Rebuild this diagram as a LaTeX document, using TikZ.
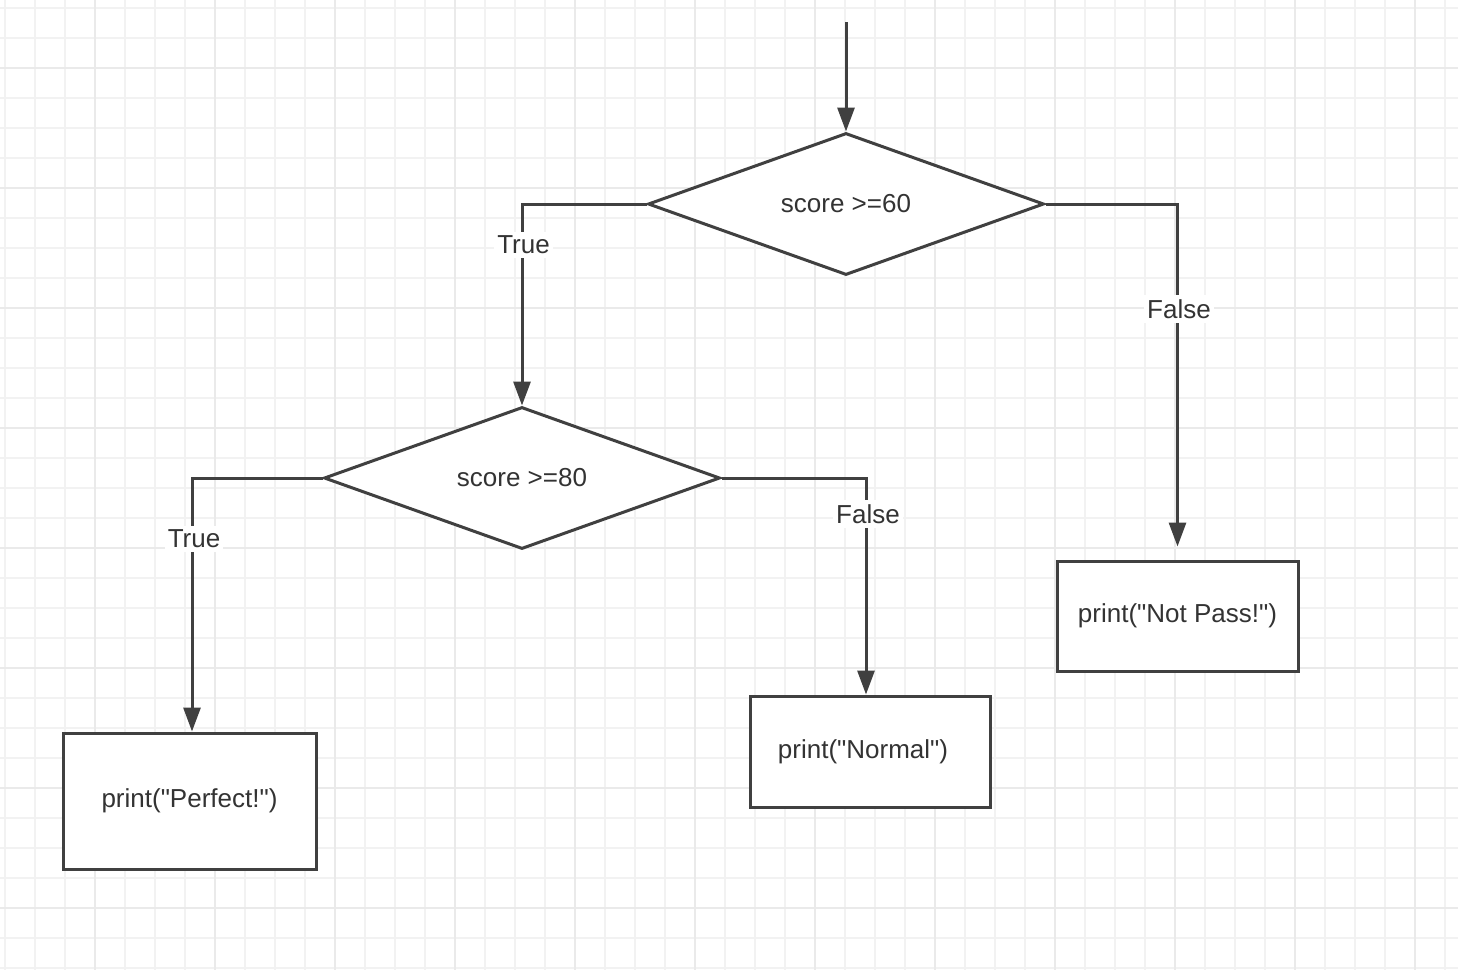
\documentclass[tikz,border=0pt]{standalone}
\usepackage{fontspec}
\setmainfont{Liberation Sans}
\usetikzlibrary{shapes.geometric,arrows.meta}
\definecolor{linec}{HTML}{404040}
\definecolor{textc}{HTML}{333333}
\definecolor{gridminor}{HTML}{F2F2F2}
\definecolor{gridmajor}{HTML}{EAEAEA}
\newcommand{\qd}{\textquotedbl}
\tikzset{
  txt/.style={font=\fontsize{26}{30}\selectfont, text=textc},
  decision/.style={diamond, draw=linec, line width=3pt, fill=white, aspect=2.79,
    minimum width=396pt, minimum height=142pt, inner sep=0pt, txt},
  action/.style={rectangle, draw=linec, line width=3pt, fill=white, inner sep=0pt, txt},
  arr/.style={draw=linec, line width=3pt, -{Triangle[length=24pt,width=17pt]}},
  lbl/.style={fill=white, inner xsep=3pt, inner ysep=4pt, txt}
}
\begin{document}
\begin{tikzpicture}[x=1pt, y=-1pt]
\useasboundingbox (0,0) rectangle (1458,970);
\fill[white] (0,0) rectangle (1458,970);
% grid
\foreach \x in {5,35,...,1458} \draw[gridminor, line width=1.5pt] (\x,0) -- (\x,970);
\foreach \y in {8,38,...,970} \draw[gridminor, line width=1.5pt] (0,\y) -- (1458,\y);
\foreach \x in {95,215,...,1458} \draw[gridmajor, line width=2pt] (\x,0) -- (\x,970);
\foreach \y in {68,188,...,970} \draw[gridmajor, line width=2pt] (0,\y) -- (1458,\y);

% nodes
\coordinate (start) at (846,22);
\node[decision] (d1) at (846,204) {score >=60};
\node[decision] (d2) at (522,478) {score >=80};
\node[action, minimum width=253pt, minimum height=136pt] (pf) at (189.5,801) {print(\qd Perfect!\qd)};
\node[action, minimum width=240pt, minimum height=111pt] (nm) at (870,751.5) {\hspace*{-14pt}print(\qd Normal\qd)};
\node[action, minimum width=241pt, minimum height=110pt] (np) at (1177.5,616) {print(\qd Not Pass!\qd)};

% connectors
\draw[arr] (start) -- (d1.north);
\draw[arr] (d1.west) -| (d2.north);
\draw[arr, shorten >=13pt] (d1.east) -| (np.north);
\draw[arr] (d2.west) -| ([xshift=2.5pt]pf.north);
\draw[arr] (d2.east) -| ([xshift=-4pt]nm.north);

% labels
\node[lbl] (l1) at (523.5,245) {True};
\node[lbl] (l2) at (1179,309) {False};
\node[lbl] (l3) at (194,539) {True};
\node[lbl] (l4) at (868,514) {False};
\end{tikzpicture}
\end{document}
